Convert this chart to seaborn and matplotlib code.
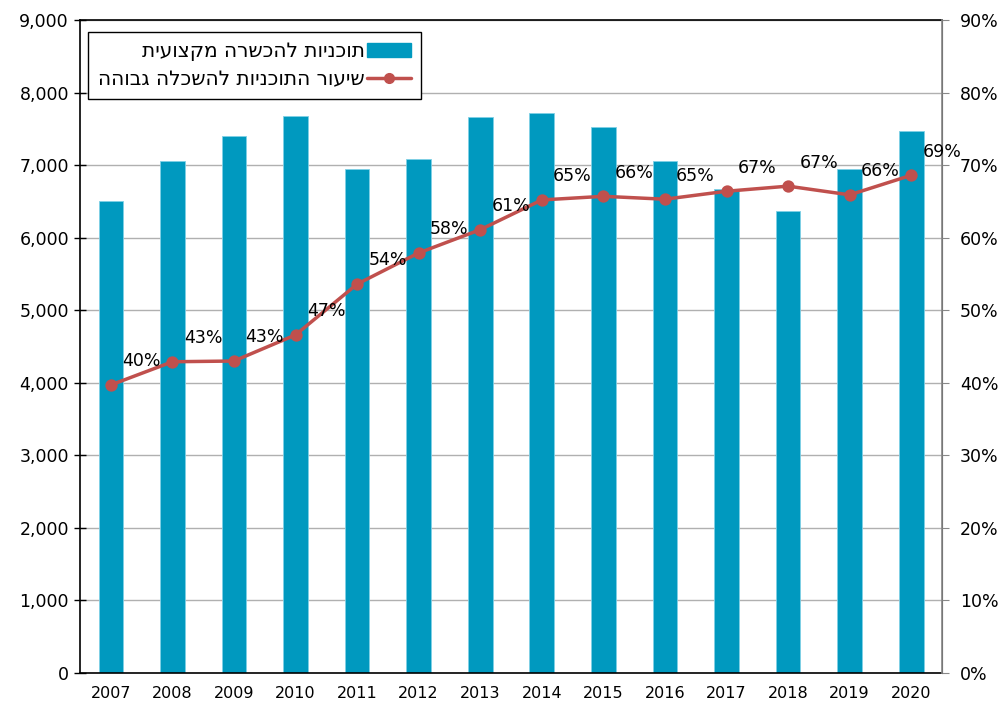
import numpy as np
import pandas as pd
import seaborn as sns
import matplotlib.pyplot as plt
from matplotlib.ticker import FuncFormatter, MultipleLocator
from matplotlib.lines import Line2D
from matplotlib.patches import Patch

years = ["2007", "2008", "2009", "2010", "2011", "2012", "2013",
         "2014", "2015", "2016", "2017", "2018", "2019", "2020"]
programs = [6510, 7060, 7400, 7680, 6950, 7085, 7665,
            7720, 7525, 7055, 6670, 6370, 6950, 7470]
rate = [39.7, 42.9, 43.0, 46.6, 53.6, 57.9, 61.1,
        65.2, 65.7, 65.3, 66.4, 67.1, 65.9, 68.6]
rate_labels = ["40%", "43%", "43%", "47%", "54%", "58%", "61%",
               "65%", "66%", "65%", "67%", "67%", "66%", "69%"]

bar_name = "תוכניות להכשרה מקצועית"
line_name = "שיעור התוכניות להשכלה גבוהה"

df = pd.DataFrame({"year": years, "programs": programs, "rate": rate})

sns.set_style("white")
plt.rcParams["font.family"] = ["DejaVu Sans"]
plt.rcParams["text.color"] = "black"
plt.rcParams["xtick.color"] = "black"
plt.rcParams["ytick.color"] = "black"

BAR = "#0099bf"
LINE = "#c0504d"

fig = plt.figure(figsize=(9.98, 7.04), dpi=100)
ax = fig.add_axes([0.0802, 0.044, 0.8637, 0.9276])

sns.barplot(data=df, x="year", y="programs", color=BAR, saturation=1,
            width=0.4, edgecolor="#7fd0e6", linewidth=0.6, ax=ax)
ax.set_ylim(0, 9000)
ax.set_xlim(-0.5, len(years) - 0.5)
ax.yaxis.set_major_locator(MultipleLocator(1000))
ax.yaxis.set_major_formatter(FuncFormatter(lambda v, p: f"{int(v):,}"))
ax.grid(axis="y", color="#b0b0b0", linewidth=1)
ax.set_axisbelow(True)
ax.set_xlabel("")
ax.set_ylabel("")

# category separators as ticks on the x axis
ax.set_xticks(np.arange(-0.5, len(years), 1), minor=True)
ax.tick_params(axis="x", which="minor", direction="inout", length=8, width=1, color="black")
ax.tick_params(axis="x", which="major", length=0, labelsize=11.5, pad=9)
ax.tick_params(axis="y", direction="inout", length=8, width=1, color="black", labelsize=12.5, pad=4)

for s in ["left", "bottom", "top"]:
    ax.spines[s].set_color("black")
    ax.spines[s].set_linewidth(1.2)

ax2 = ax.twinx()
sns.pointplot(data=df, x="year", y="rate", color=LINE, markers="o",
              markersize=7, linewidth=2.5, ax=ax2)
ax2.set_ylim(0, 90)
ax2.set_xlim(-0.5, len(years) - 0.5)
ax2.yaxis.set_major_locator(MultipleLocator(10))
ax2.yaxis.set_major_formatter(FuncFormatter(lambda v, p: f"{int(v)}%"))
ax2.tick_params(axis="y", direction="out", length=5, color="#888888", labelsize=12.5, pad=8)
ax2.set_ylabel("")
ax2.spines["right"].set_color("#888888")
ax2.spines["right"].set_linewidth(1.2)
for s in ["left", "bottom", "top"]:
    ax2.spines[s].set_visible(False)

for i, lab in enumerate(rate_labels):
    ax2.annotate(lab, (i, rate[i]), xytext=(22, 17), textcoords="offset points",
                 ha="center", va="center", fontsize=12.5, color="black")

# Hebrew is written right-to-left; matplotlib lays glyphs left-to-right
handles = [Patch(facecolor=BAR, edgecolor=BAR),
           Line2D([0], [0], color=LINE, marker="o", linewidth=2.5, markersize=7)]
leg = ax.legend(handles, [bar_name[::-1], line_name[::-1]], loc="upper left",
                bbox_to_anchor=(0.0093, 0.982), borderaxespad=0, markerfirst=False,
                fontsize=14.5, frameon=True, fancybox=False, edgecolor="black",
                framealpha=1, borderpad=0.5, labelspacing=0.45, handlelength=2.2,
                handletextpad=0.1)
leg.get_frame().set_linewidth(1)

fig.savefig("out.png", dpi=100)
